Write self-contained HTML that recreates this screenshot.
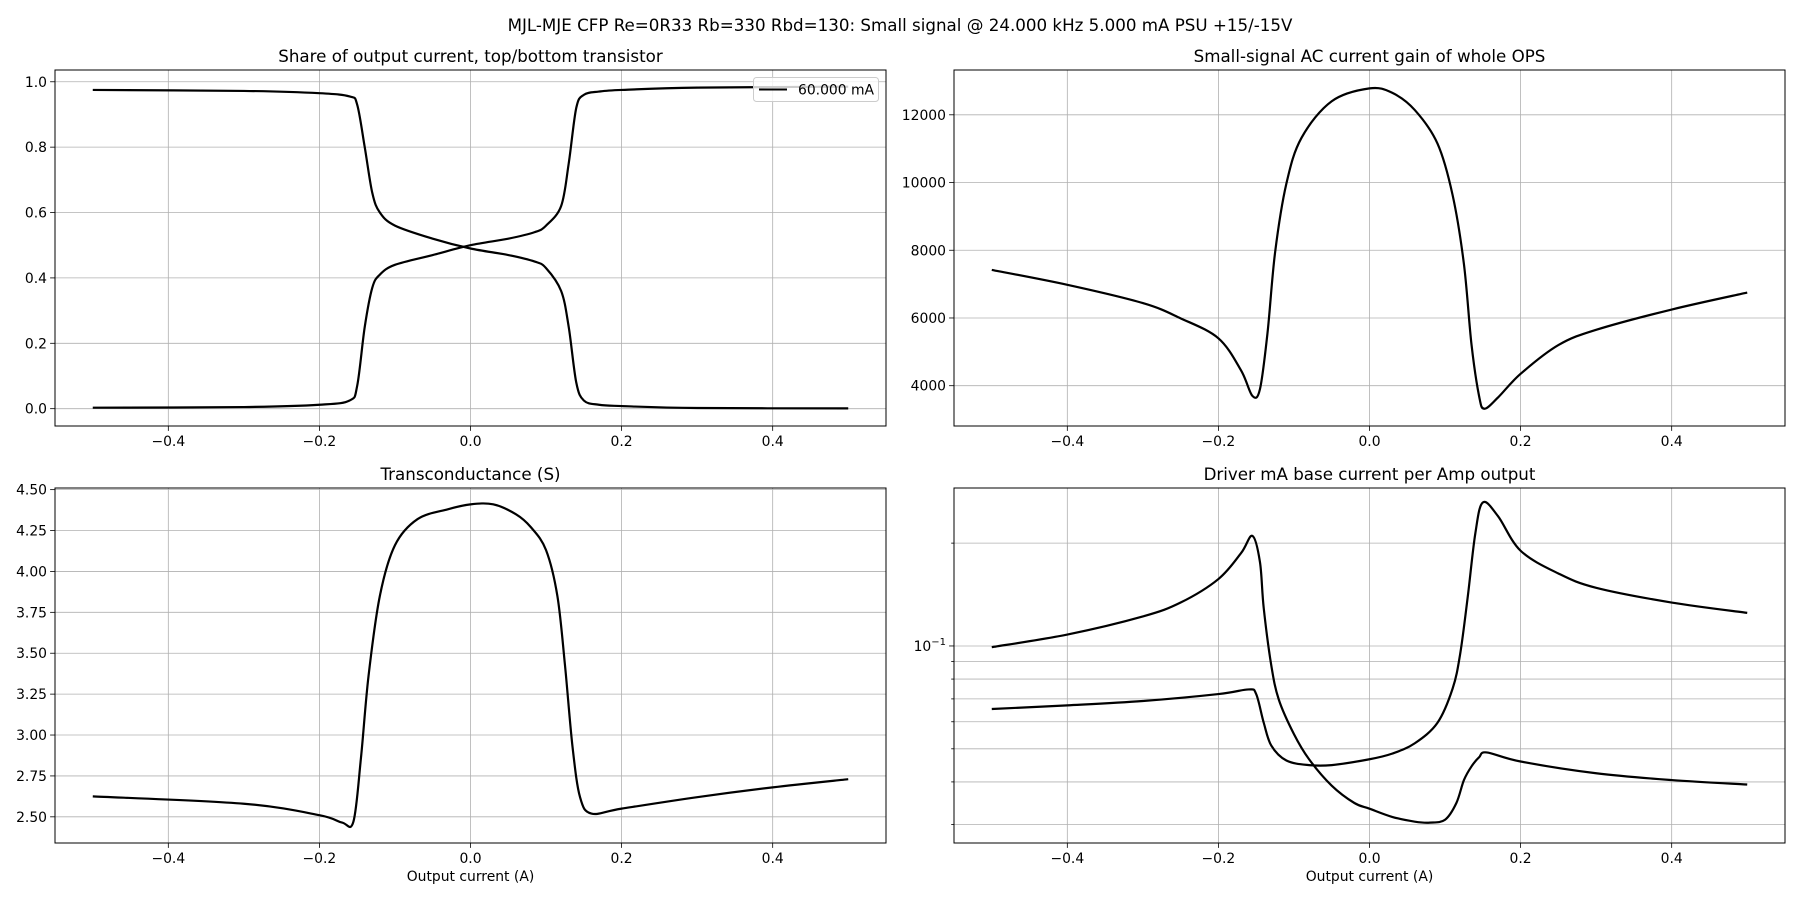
<!DOCTYPE html>
<html><head><meta charset="utf-8"><style>
body{margin:0;background:#fff;}
svg text{font-family:"DejaVu Sans","Liberation Sans",sans-serif;fill:#000;}
</style></head><body>
<svg id="fig" width="1800" height="900" viewBox="0 0 1800 900" xmlns="http://www.w3.org/2000/svg">
<rect width="1800" height="900" fill="#fff"/>
<text x="900" y="31" font-size="16.7" text-anchor="middle">MJL-MJE CFP Re=0R33 Rb=330 Rbd=130: Small signal @ 24.000 kHz 5.000 mA PSU +15/-15V</text>
</svg>
<script>
// ---- data ----
const shareX = [-0.5,-0.3,-0.2,-0.16,-0.15,-0.14,-0.13,-0.12,-0.1,-0.05,0,0.05,0.085,0.1,0.12,0.13,0.14,0.15,0.17,0.2,0.3,0.5];
const shareTop = [0.975,0.972,0.965,0.955,0.93,0.80,0.66,0.60,0.56,0.52,0.49,0.47,0.45,0.43,0.36,0.25,0.08,0.025,0.012,0.008,0.002,0.001];
const shareBottom = [0.003,0.005,0.012,0.025,0.07,0.25,0.37,0.41,0.44,0.47,0.50,0.52,0.54,0.56,0.62,0.75,0.92,0.96,0.97,0.975,0.982,0.985];

const gainX = [-0.5,-0.4,-0.3,-0.25,-0.2,-0.17,-0.155,-0.145,-0.135,-0.125,-0.11,-0.09,-0.05,0,0.03,0.06,0.09,0.11,0.125,0.135,0.145,0.152,0.17,0.2,0.25,0.3,0.4,0.5];
const gainY = [7420,6980,6440,5990,5400,4450,3700,3900,5560,7930,9970,11320,12400,12780,12650,12140,11150,9630,7590,5220,3700,3320,3650,4350,5200,5650,6250,6750];

const gmX = [-0.5,-0.3,-0.2,-0.17,-0.155,-0.145,-0.135,-0.12,-0.1,-0.07,-0.03,0,0.03,0.06,0.08,0.1,0.115,0.125,0.135,0.145,0.16,0.2,0.3,0.4,0.5];
const gmY = [2.625,2.58,2.51,2.465,2.47,2.86,3.36,3.85,4.16,4.32,4.38,4.41,4.41,4.35,4.27,4.13,3.85,3.43,2.93,2.62,2.52,2.55,2.62,2.68,2.73];

const drvX = [-0.5,-0.4,-0.3,-0.25,-0.2,-0.17,-0.155,-0.145,-0.14,-0.13,-0.12,-0.1,-0.08,-0.05,-0.02,0,0.03,0.06,0.08,0.1,0.115,0.125,0.135,0.145,0.155,0.2,0.3,0.4,0.5];
const drvA = [0.0992,0.108,0.122,0.134,0.157,0.187,0.210,0.176,0.129,0.0877,0.0696,0.0552,0.0466,0.039,0.0347,0.0334,0.0316,0.0306,0.0304,0.031,0.0347,0.0405,0.0444,0.0472,0.0488,0.0459,0.0424,0.0405,0.0393];
const drvX2 = [-0.5,-0.4,-0.3,-0.2,-0.16,-0.15,-0.14,-0.13,-0.11,-0.08,-0.05,0,0.03,0.06,0.09,0.11,0.12,0.13,0.14,0.15,0.17,0.2,0.25,0.3,0.4,0.5];
const drvB = [0.0654,0.067,0.069,0.0723,0.0746,0.0723,0.0596,0.0511,0.0462,0.0448,0.0448,0.0466,0.0484,0.0519,0.0596,0.075,0.0947,0.139,0.213,0.263,0.24,0.19,0.163,0.148,0.134,0.125];

const xTicks = [-0.4,-0.2,0,0.2,0.4];
const xTickLabels = ["\u22120.4","\u22120.2","0.0","0.2","0.4"];

const NS="http://www.w3.org/2000/svg";
const svg=document.getElementById('fig');
function mk(tag,attrs,parent){const e=document.createElementNS(NS,tag);for(const k in attrs)e.setAttribute(k,attrs[k]);(parent||svg).appendChild(e);return e;}

function panel(o){
  const g=mk('g',{});
  
  
  const L=o.L,R=o.R,T=o.T,B=o.B;
  const sx=v=>L+(v-(-0.55))/(1.1)*(R-L);
  const tf=o.log?(v=>Math.log10(v)):(v=>v);
  const y0=tf(o.ymin),y1=tf(o.ymax);
  const sy=v=>B-(tf(v)-y0)/(y1-y0)*(B-T);
  // grid
  xTicks.forEach((t,i)=>{
    const x=sx(t);
    const gl=mk('line',{x1:x,x2:x,y1:T,y2:B,stroke:'#b0b0b0','stroke-width':0.8},g);
    
    
    mk('line',{x1:x,x2:x,y1:B,y2:B+4.9,stroke:'#000','stroke-width':0.8},g);
    const tx=mk('text',{x:x,y:B+20,'font-size':13.9,'text-anchor':'middle'},g);
    tx.textContent=xTickLabels[i];
    
    
  });
  o.yTicks.forEach((t,i)=>{
    const y=sy(t);
    const gl=mk('line',{x1:L,x2:R,y1:y,y2:y,stroke:'#b0b0b0','stroke-width':0.8},g);
    
    
    const lab=o.yLabels[i];
    mk('line',{x1:L-(lab===''?2.8:4.9),x2:L,y1:y,y2:y,stroke:'#000','stroke-width':0.8},g);
    if(lab!==''){
      const tx=mk('text',{x:L-8,y:y+5,'font-size':13.9,'text-anchor':'end'},g);
      
      
      if(lab==='log'){tx.innerHTML='10<tspan dy="-6" font-size="10">\u22121</tspan>';}
      else tx.textContent=lab;
    }
  });
  // series
  o.series.forEach(s=>{
    const pts=s.x.map((v,i)=>[sx(v),sy(s.y[i])]);
    let d='M'+pts[0][0]+','+pts[0][1];
    for(let i=0;i<pts.length-1;i++){
      const p0=pts[Math.max(0,i-1)],p1=pts[i],p2=pts[i+1],p3=pts[Math.min(pts.length-1,i+2)];
      const c1=[p1[0]+(p2[0]-p0[0])/6,p1[1]+(p2[1]-p0[1])/6];
      const c2=[p2[0]-(p3[0]-p1[0])/6,p2[1]-(p3[1]-p1[1])/6];
      d+=' C'+c1[0]+','+c1[1]+' '+c2[0]+','+c2[1]+' '+p2[0]+','+p2[1];
    }
    const p=mk('path',{d:d,fill:'none',stroke:'#000','stroke-width':2.2,'stroke-linejoin':'round'},g);
    
    
  });
  const fr=mk('rect',{x:L,y:T,width:R-L,height:B-T,fill:'none',stroke:'#000','stroke-width':1},g);
  
  
  const tt=mk('text',{x:(L+R)/2,y:T-8,'font-size':16.7,'text-anchor':'middle'},g);
  tt.textContent=o.title;
  
  
  if(o.xlabel){
    const xl=mk('text',{x:(L+R)/2,y:B+38,'font-size':13.9,'text-anchor':'middle'},g);
    xl.textContent=o.xlabel;
    
    
  }
  return g;
}

panel({name:'share-panel',L:55,R:886,T:70,B:426,ymin:-0.053,ymax:1.036,
  yTicks:[0,0.2,0.4,0.6,0.8,1.0],yLabels:['0.0','0.2','0.4','0.6','0.8','1.0'],
  title:'Share of output current, top/bottom transistor',
  series:[{name:'share-top-line',x:shareX,y:shareTop},{name:'share-bottom-line',x:shareX,y:shareBottom}]});
panel({name:'gain-panel',L:954,R:1785,T:70,B:426,ymin:2810,ymax:13323,
  yTicks:[4000,6000,8000,10000,12000],yLabels:['4000','6000','8000','10000','12000'],
  title:'Small-signal AC current gain of whole OPS',
  series:[{name:'gain-line',x:gainX,y:gainY}]});
panel({name:'transconductance-panel',L:55,R:886,T:488,B:843,ymin:2.34,ymax:4.51,
  yTicks:[2.5,2.75,3.0,3.25,3.5,3.75,4.0,4.25,4.5],yLabels:['2.50','2.75','3.00','3.25','3.50','3.75','4.00','4.25','4.50'],
  title:'Transconductance (S)',xlabel:'Output current (A)',
  series:[{name:'gm-line',x:gmX,y:gmY}]});
panel({name:'driver-panel',L:954,R:1785,T:488,B:843,ymin:0.0265,ymax:0.29,log:true,
  yTicks:[0.03,0.04,0.05,0.06,0.07,0.08,0.09,0.1,0.2],yLabels:['','','','','','','','log',''],
  title:'Driver mA base current per Amp output',xlabel:'Output current (A)',
  series:[{name:'driver-line-a',x:drvX,y:drvA},{name:'driver-line-b',x:drvX2,y:drvB}]});

// legend
const lg=mk('g',{});


mk('rect',{x:753.5,y:77.5,width:125,height:24,rx:3,fill:'#fff','fill-opacity':0.8,stroke:'#ccc'},lg);
mk('line',{x1:759,x2:787,y1:89.5,y2:89.5,stroke:'#000','stroke-width':2},lg);
const lt=mk('text',{x:798,y:94.5,'font-size':13.9},lg);
lt.textContent='60.000 mA';


</script>
</body></html>
